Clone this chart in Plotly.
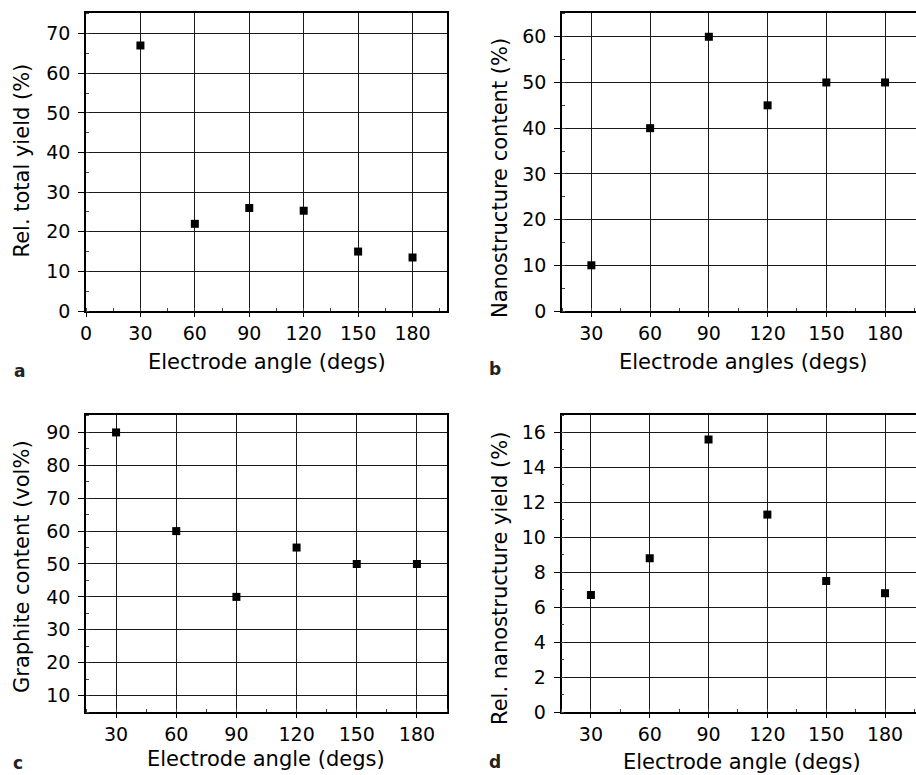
import plotly.graph_objects as go

# ---- data ----
angles = [30, 60, 90, 120, 150, 180]
rel_total_yield = [67.0, 22.0, 26.0, 25.3, 15.0, 13.5]
nanostructure_content = [10, 40, 60, 45, 50, 50]
graphite_content = [90, 60, 40, 55, 50, 50]
rel_nano_yield = [6.7, 8.8, 15.6, 11.3, 7.5, 6.8]

x_ticks_a = [0, 30, 60, 90, 120, 150, 180]
x_ticks = [30, 60, 90, 120, 150, 180]

panel_letters = ["a", "b", "c", "d"]
x_titles = ["Electrode angle (degs)", "Electrode angles (degs)",
            "Electrode angle (degs)", "Electrode angle (degs)"]
y_titles = ["Rel. total yield (%)", "Nanostructure content (%)",
            "Graphite content (vol%)", "Rel. nanostructure yield (%)"]

W, H = 916, 775
FONT = "DejaVu Sans"

def px(x):
    return x / W

def py(y):
    return 1 - y / H

fig = go.Figure()

series = [rel_total_yield, nanostructure_content, graphite_content, rel_nano_yield]
for i, vals in enumerate(series):
    suf = "" if i == 0 else str(i + 1)
    fig.add_trace(go.Scatter(
        x=angles, y=vals, mode="markers",
        marker=dict(symbol="square", size=8, color="black"),
        xaxis="x" + suf, yaxis="y" + suf, showlegend=False,
    ))

grid_col = "#1a1a1a"
tickfont = dict(family=FONT, size=19, color="black")

def xax(domain, rng, tickvals, anchor, mirror):
    return dict(
        domain=domain, range=rng, anchor=anchor, automargin=False,
        tickvals=tickvals, showgrid=True, gridcolor=grid_col, gridwidth=1.3,
        showline=True, linecolor="black", linewidth=1.5, mirror=mirror,
        ticks="outside", ticklen=4, tickcolor="black", tickwidth=1.2,
        tickfont=tickfont, zeroline=False, ticklabelstandoff=0,
        minor=dict(ticks="inside", ticklen=3, tickcolor="#444", dtick=15,
                   tick0=0, showgrid=False),
    )

def yax(domain, rng, dtick, tick0, anchor, mirror, minor_dtick):
    return dict(
        domain=domain, range=rng, anchor=anchor, automargin=False,
        dtick=dtick, tick0=tick0, showgrid=True, gridcolor=grid_col, gridwidth=1.3,
        showline=True, linecolor="black", linewidth=1.5, mirror=mirror,
        ticks="outside", ticklen=6, tickcolor="black", tickwidth=1.2,
        tickfont=tickfont, zeroline=False, ticklabelstandoff=4,
        minor=dict(ticks="inside", ticklen=3, tickcolor="#444", dtick=minor_dtick,
                   tick0=0, showgrid=False),
    )

top_dom = [py(311), py(13)]
bot_dom = [py(712), py(415)]
left_dom = [px(86), px(447)]
right_dom = [px(562), 1.0]

fig.update_layout(
    width=W, height=H,
    margin=dict(l=0, r=0, t=0, b=0, autoexpand=False),
    paper_bgcolor="white", plot_bgcolor="white",
    xaxis=xax(left_dom, [0, 199], x_ticks_a, "y", True),
    yaxis=yax(top_dom, [0, 75.2], 10, 0, "x", True, 5),
    xaxis2=xax(right_dom, [15, 195.8], x_ticks, "y2", True),
    yaxis2=yax(top_dom, [0, 65.2], 10, 0, "x2", False, 5),
    xaxis3=xax(left_dom, [15, 195], x_ticks, "y3", True),
    yaxis3=yax(bot_dom, [5, 95.3], 10, 0, "x3", True, 5),
    xaxis4=xax([px(561.5), 1.0], [15, 195.8], x_ticks, "y4", True),
    yaxis4=yax(bot_dom, [0, 17], 2, 0, "x4", False, 1),
)

title_font = dict(family=FONT, size=21, color="black")
# centre positions in pixels
x_title_pos = [(267, 362), (743, 362), (266, 759), (742, 762)]
y_title_pos = [(21.5, 161), (500, 178), (22, 567), (500, 579)]
letter_pos = [(19, 371), (495, 369), (18, 763), (495, 762)]

for i in range(4):
    xc, yc = x_title_pos[i]
    fig.add_annotation(text=x_titles[i], x=px(xc), y=py(yc), xref="paper", yref="paper",
                       showarrow=False, font=title_font, xanchor="center", yanchor="middle")
    xc, yc = y_title_pos[i]
    fig.add_annotation(text=y_titles[i], x=px(xc), y=py(yc), xref="paper", yref="paper",
                       showarrow=False, font=title_font, textangle=-90,
                       xanchor="center", yanchor="middle")
    xc, yc = letter_pos[i]
    fig.add_annotation(text="<b>" + panel_letters[i] + "</b>", x=px(xc), y=py(yc),
                       xref="paper", yref="paper", showarrow=False,
                       font=dict(family=FONT, size=17, color="#222"),
                       xanchor="center", yanchor="middle")

fig.write_html(
    "out.html",
    config={"displayModeBar": False},
    post_script="document.body.style.margin='0';document.body.style.overflow='hidden';",
)
